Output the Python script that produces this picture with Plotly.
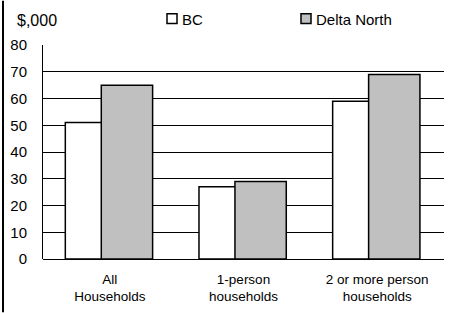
import plotly.graph_objects as go

categories = ["All<br>Households", "1-person<br>households", "2 or more person<br>households"]
series_names = ["BC", "Delta North"]
bc_values = [51, 27, 59]
dn_values = [65, 29, 69]
y_ticks = [0, 10, 20, 30, 40, 50, 60, 70, 80]

FONT = "Liberation Sans, Arial, sans-serif"
colors = ["#FFFFFF", "#C0C0C0"]

fig = go.Figure()
for name, vals, col, off in zip(series_names, [bc_values, dn_values], colors, [-0.333, -0.064]):
    fig.add_trace(go.Bar(
        x=categories, y=vals, name=name,
        marker=dict(color=col, line=dict(color="black", width=1.5)),
        width=0.384, offset=off, showlegend=False,
    ))

# plot area geometry (px) for manual legend placement
L, R, T, B = 43, 444, 44.5, 259.5
W, H = R - L, B - T
def px(x): return (x - L) / W
def py(y): return (B - y) / H

shapes = [
    dict(type="line", xref="paper", yref="paper", x0=px(3), x1=px(3), y0=py(0), y1=py(313),
         line=dict(color="black", width=2)),
]
annotations = [
    dict(text="$,000", xref="paper", yref="paper", x=px(15), y=py(20), xanchor="left", yanchor="middle",
         showarrow=False, font=dict(family=FONT, size=16, color="black")),
]
legend_pos = [(167, 180), (301, 314)]
for name, col, (sx, tx) in zip(series_names, colors, legend_pos):
    shapes.append(dict(type="rect", xref="paper", yref="paper", x0=px(sx), x1=px(sx + 10),
                       y0=py(23), y1=py(13), fillcolor=col, line=dict(color="black", width=1.5)))
    annotations.append(dict(text=name, xref="paper", yref="paper", x=px(tx), y=py(18.5),
                            xanchor="left", yanchor="middle", showarrow=False,
                            font=dict(family=FONT, size=15, color="black")))

fig.update_layout(
    width=449, height=313,
    margin=dict(l=L, r=449 - R, t=T, b=313 - B, pad=0, autoexpand=False),
    paper_bgcolor="white", plot_bgcolor="white",
    barmode="overlay",
    font=dict(family=FONT, color="black"),
    shapes=shapes, annotations=annotations,
    showlegend=False,
)
fig.update_xaxes(range=[-0.5, 2.5], showgrid=False, showline=False, ticks="", automargin=False,
                 tickfont=dict(size=13.5, family=FONT, color="black"), ticklabelstandoff=10)
fig.update_yaxes(range=[0, 80], tickvals=y_ticks, showgrid=True, gridcolor="black", gridwidth=1,
                 showline=True, linecolor="black", linewidth=1, zeroline=True, zerolinecolor="black",
                 zerolinewidth=1, ticks="", tickfont=dict(size=15, family=FONT, color="black"),
                 ticklabelstandoff=12, automargin=False)

fig.write_html("out.html", config={"displayModeBar": False},
               post_script="document.body.style.margin='0';document.body.style.overflow='hidden';")
